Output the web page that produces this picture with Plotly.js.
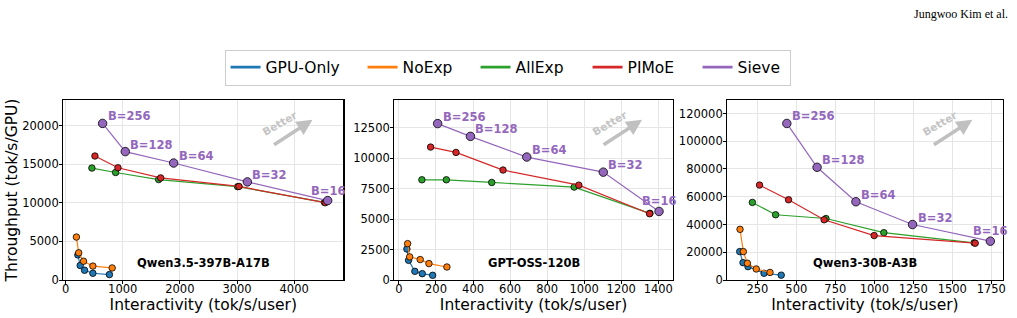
<!DOCTYPE html>
<html>
<head>
<meta charset="utf-8">
<script src="https://cdn.plot.ly/plotly-3.0.1.min.js"></script>
<style>html,body{margin:0;padding:0;background:#fff;}#chart{width:1017px;height:318px;}</style>
</head>
<body>
<div id="chart"></div>
<script>
// ---- data ----
const seriesNames = ["GPU-Only", "NoExp", "AllExp", "PIMoE", "Sieve"];
const batchLabels = ["B=256", "B=128", "B=64", "B=32", "B=16"];
const modelNames = ["Qwen3.5-397B-A17B", "GPT-OSS-120B", "Qwen3-30B-A3B"];

// Panel 1: Qwen3.5-397B-A17B
const gpu1_x = [215, 256, 333, 478, 768];
const gpu1_y = [3250, 1880, 1260, 870, 700];
const noexp1_x = [190, 230, 315, 478, 816];
const noexp1_y = [5560, 3520, 2430, 1800, 1560];
const allexp1_x = [461, 876, 1629, 3010, 4530];
const allexp1_y = [14490, 13920, 13000, 12080, 10050];
const pimoe1_x = [514, 917, 1664, 3035, 4542];
const pimoe1_y = [16050, 14530, 13220, 12110, 10010];
const sieve1_x = [648, 1045, 1891, 3181, 4586];
const sieve1_y = [20270, 16620, 15140, 12700, 10280];

// Panel 2: GPT-OSS-120B
const gpu2_x = [43, 52, 86, 126, 182];
const gpu2_y = [2550, 1620, 710, 520, 385];
const noexp2_x = [47, 58, 115, 162, 259];
const noexp2_y = [2990, 1900, 1680, 1350, 1070];
const allexp2_x = [124, 256, 501, 946, 1355];
const allexp2_y = [8240, 8240, 8020, 7640, 5480];
const pimoe2_x = [171, 308, 562, 971, 1353];
const pimoe2_y = [10930, 10490, 9040, 7800, 5450];
const sieve2_x = [209, 386, 690, 1103, 1404];
const sieve2_y = [12860, 11810, 10110, 8870, 5640];

// Panel 3: Qwen3-30B-A3B
const gpu3_x = [137, 158, 190, 293, 403];
const gpu3_y = [20460, 12510, 9610, 4840, 3500];
const noexp3_x = [139, 160, 186, 243, 331];
const noexp3_y = [36500, 20460, 12070, 7950, 5450];
const allexp3_x = [218, 367, 690, 1061, 1640];
const allexp3_y = [55900, 47000, 44300, 34100, 26800];
const pimoe3_x = [264, 450, 678, 999, 1647];
const pimoe3_y = [68400, 57800, 43400, 32030, 26500];
const sieve3_x = [439, 633, 882, 1245, 1744];
const sieve3_y = [112800, 81200, 56400, 39980, 27970];

// ---- styles ----
const colors = ["#1f77b4", "#ff7f0e", "#2ca02c", "#d62728", "#9467bd"];
const legendWidths = [92, 68, 67, 65, 47];
const panels = [
  {xs:[gpu1_x,noexp1_x,allexp1_x,pimoe1_x,sieve1_x], ys:[gpu1_y,noexp1_y,allexp1_y,pimoe1_y,sieve1_y]},
  {xs:[gpu2_x,noexp2_x,allexp2_x,pimoe2_x,sieve2_x], ys:[gpu2_y,noexp2_y,allexp2_y,pimoe2_y,sieve2_y]},
  {xs:[gpu3_x,noexp3_x,allexp3_x,pimoe3_x,sieve3_x], ys:[gpu3_y,noexp3_y,allexp3_y,pimoe3_y,sieve3_y]}
];
const xRanges = [[-40, 4860], [-25, 1478], [57, 1823]];
const yRanges = [[0, 23300], [0, 14800], [0, 129700]];
const xDtick = [1000, 200, 250];
const yDtick = [5000, 2500, 20000];
const xDomains = [[0.0622, 0.3376], [0.3877, 0.6615], [0.7151, 0.9859]];
const yDomain = [0.1195, 0.6855];

const traces = [];
panels.forEach((p, pi) => {
  const sfx = pi === 0 ? "" : String(pi + 1);
  p.xs.forEach((xv, si) => {
    const isSieve = si === 4;
    traces.push({
      type: "scatter", mode: "lines+markers",
      x: xv, y: p.ys[si],
      name: seriesNames[si], legendgroup: seriesNames[si],
      showlegend: false,
      xaxis: "x" + sfx, yaxis: "y" + sfx,
      line: {color: colors[si], width: 1.2},
      marker: {color: colors[si], size: isSieve ? 8.5 : 6.5, line: {color: "#000", width: 0.8}},
      hoverinfo: "x+y+name"
    });
  });
});
// legend entries (line only, as in the reference legend)
seriesNames.forEach((nm, si) => {
  traces.push({
    type: "scatter", mode: "lines", x: [null], y: [null],
    name: nm, legendgroup: nm, showlegend: true, legendwidth: legendWidths[si],
    xaxis: "x", yaxis: "y",
    line: {color: colors[si], width: 2.6}, hoverinfo: "skip"
  });
});

const tickFont = {family: "DejaVu Sans", size: 11.5, color: "#000"};
const titleFont = {family: "DejaVu Sans", size: 15.5, color: "#000"};
const layout = {
  width: 1017, height: 318,
  margin: {l: 0, r: 0, t: 0, b: 0},
  paper_bgcolor: "#fff", plot_bgcolor: "#fff",
  font: {family: "DejaVu Sans", color: "#000"},
  showlegend: true,
  legend: {
    orientation: "h", x: 0.2208, y: 0.7877, xanchor: "left", yanchor: "middle",
    bgcolor: "#fff", bordercolor: "#cccccc", borderwidth: 1,
    font: {family: "DejaVu Sans", size: 15.5, color: "#000"},
    itemwidth: 30, traceorder: "normal"
  },
  annotations: [],
  shapes: []
};

for (let i = 0; i < 3; i++) {
  const sfx = i === 0 ? "" : String(i + 1);
  layout["xaxis" + sfx] = {
    domain: xDomains[i], anchor: "y" + sfx, range: xRanges[i], dtick: xDtick[i], tick0: 0,
    showline: true, mirror: true, linecolor: "#000", linewidth: 1.2,
    ticks: "outside", ticklen: 3, tickwidth: 1, tickcolor: "#000",
    ticklabelstandoff: -5,
    showgrid: true, gridcolor: "#e5e5e5", gridwidth: 1, zeroline: false,
    tickfont: tickFont, tickformat: "d",
    title: {text: "Interactivity (tok/s/user)", font: titleFont, standoff: 2}
  };
  layout["yaxis" + sfx] = {
    domain: yDomain, anchor: "x" + sfx, range: yRanges[i], dtick: yDtick[i], tick0: 0,
    showline: true, mirror: true, linecolor: "#000", linewidth: 1.2,
    ticks: "outside", ticklen: 3, tickwidth: 1, tickcolor: "#000",
    ticklabelstandoff: -2,
    showgrid: true, gridcolor: "#e5e5e5", gridwidth: 1, zeroline: false,
    tickfont: tickFont, tickformat: "d",
    title: i === 0 ? {text: "Throughput (tok/s/GPU)", font: titleFont, standoff: 0} : {text: ""}
  };
  // model name label
  layout.annotations.push({
    xref: "x" + sfx + " domain", yref: "y" + sfx + " domain", x: 0.5, y: 0.093,
    text: "<b>" + modelNames[i] + "</b>", showarrow: false,
    font: {family: "DejaVu Sans", size: 11.5, color: "#000"}, xanchor: "center", yanchor: "middle"
  });
  // Better arrow
  layout.annotations.push({
    xref: "x" + sfx + " domain", yref: "y" + sfx + " domain", x: 0.89, y: 0.89,
    ax: -40, ay: 26, axref: "pixel", ayref: "pixel", text: "", showarrow: true,
    arrowhead: 2, arrowsize: 0.9, arrowwidth: 3.5, arrowcolor: "#c0c0c0"
  });
  layout.annotations.push({
    xref: "x" + sfx + " domain", yref: "y" + sfx + " domain", x: 0.774, y: 0.87,
    text: "<b>Better</b>", showarrow: false, textangle: -30,
    font: {family: "DejaVu Sans", size: 10.5, color: "#c4c4c4"}, xanchor: "center", yanchor: "middle"
  });
  // batch labels on Sieve points
  const sx = panels[i].xs[4], sy = panels[i].ys[4];
  batchLabels.forEach((lab, bi) => {
    const last = bi === batchLabels.length - 1;
    layout.annotations.push({
      xref: "x" + sfx, yref: "y" + sfx, x: sx[bi], y: sy[bi],
      text: "<b>" + lab + "</b>", showarrow: false,
      xanchor: "left", yanchor: "middle",
      xshift: last ? -19 : 3, yshift: last ? 10 : 7,
      font: {family: "DejaVu Sans", size: 11.5, color: "#9467bd"}
    });
  });
}
// running header
layout.annotations.push({
  xref: "paper", yref: "paper", x: 0.993, y: 0.956, xanchor: "right", yanchor: "middle",
  text: "Jungwoo Kim et al.", showarrow: false,
  font: {family: "Liberation Serif", size: 12, color: "#000"}
});

Plotly.newPlot("chart", traces, layout, {displayModeBar: false, staticPlot: true});
</script>
</body>
</html>
